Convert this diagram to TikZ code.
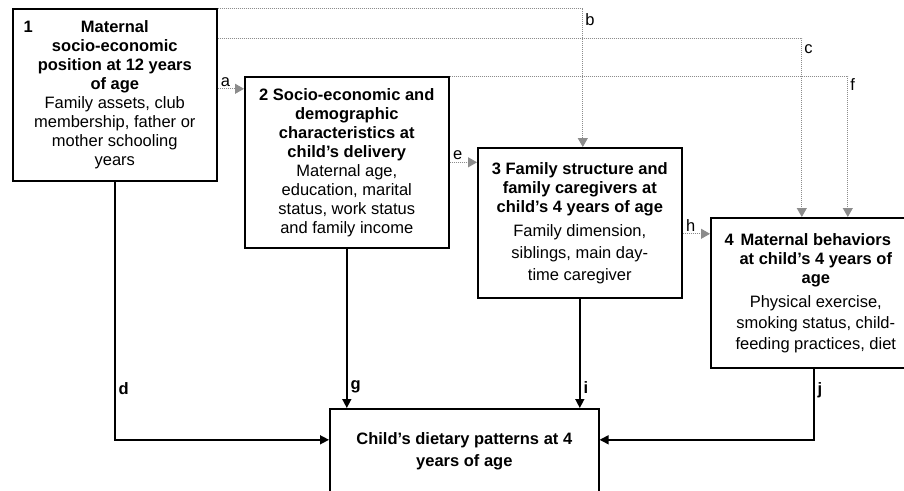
\documentclass[tikz,border=0pt]{standalone}
\usepackage{fontspec}
\setmainfont{Liberation Sans}
\usetikzlibrary{arrows.meta,positioning,calc}

\begin{document}
\begin{tikzpicture}[
			x=1pt, y=-1pt,
			every node/.style={font=\fontsize{16.5}{19}\selectfont},
			box/.style={draw, line width=1.6pt, anchor=north west, align=center, inner sep=2pt},
			num/.style={anchor=base west, font=\fontsize{16.5}{19}\selectfont\bfseries},
			dotline/.style={black!45, line width=1pt, dash pattern=on 1pt off 1pt,
				-{Triangle[width=10pt,length=9pt]}},
			mainline/.style={black, line width=1.5pt, -{Triangle[width=9pt,length=9pt]}},
			lab/.style={text=black, inner sep=2pt},
			blab/.style={font=\fontsize{16.5}{19}\selectfont\bfseries, inner sep=3pt}
			]
			\useasboundingbox (0,0) rectangle (904,490);
			\clip (0,0) rectangle (904,490);
			
			% Determinant blocks
			\node[box, minimum width=204pt, minimum height=172pt] (mat) at (12,8)
				{\textbf{Maternal}\\ \textbf{socio-economic}\\ \textbf{position at 12 years}\\ \textbf{of age}\\
				 Family assets, club\\ membership, father or\\ mother schooling\\ years};
			\node[box, minimum width=204pt, minimum height=171pt] (demo) at (244,76)
				{\textbf{2 Socio-economic and}\\ \textbf{demographic}\\ \textbf{characteristics at}\\ \textbf{child's delivery}\\
				 Maternal age,\\ education, marital\\ status, work status\\ and family income};
			\node[box, minimum width=204pt, minimum height=150pt] (fam) at (477,147)
				{\textbf{3 Family structure and}\\ \textbf{family caregivers at}\\ \textbf{child's 4 years of age}\\[5pt]
				 Family dimension,\\[3pt] siblings, main day-\\[3pt] time caregiver};
			\node[box, minimum width=210pt, minimum height=150pt] (beh) at (710,217)
				{\textbf{Maternal behaviors}\\ \textbf{at child's 4 years of}\\ \textbf{age}\\[5pt]
				 Physical exercise,\\[2pt] smoking status, child-\\[2pt] feeding practices, diet};
			
			% Outcome
			\node[box, minimum width=269pt, minimum height=84pt] (diet) at (329,408)
				{\textbf{Child's dietary patterns at 4}\\[3pt] \textbf{years of age}};
			
			% Block numbers
			\node[num] (n1) at ([xshift=8pt,yshift=-24pt]mat.north west) {1};
			\node[num] (n4) at ([xshift=11pt,yshift=-28pt]beh.north west) {4};
			
			% Indirect paths (dotted)
			\draw[dotline] ([yshift=6pt]mat.east) -- ([yshift=6pt]mat.east -| demo.west)
				node[lab, pos=0.3, above] {a};
			\draw[dotline] (mat.north east) -| ([xshift=3pt]fam.north)
				node[lab, pos=0.54, right] {b};
			\draw[dotline] ([yshift=-30pt]mat.north east) -| ([xshift=-14pt]beh.north)
				node[lab, pos=0.53, right] {c};
			\draw[dotline] (demo.east) -- (demo.east -| fam.west)
				node[lab, pos=0.3, above] {e};
			\draw[dotline] (demo.north east) -| ([xshift=32pt]beh.north)
				node[lab, pos=0.53, right] {f};
			\draw[dotline] ([yshift=-11pt]fam.east) -- ([yshift=-11pt]fam.east -| beh.west)
				node[lab, pos=0.3, above] {h};
			
			% Direct paths to the outcome
			\draw[mainline] (mat.south) |- ([yshift=11pt]diet.west)
				node[blab, pos=0.4, right] {d};
			\draw[mainline] (demo.south) -- (demo.south |- diet.north)
				node[blab, pos=0.87, right] {g};
			\draw[mainline] (fam.south) -- (fam.south |- diet.north)
				node[blab, pos=0.81, right] {i};
			\draw[mainline] ([xshift=-2pt]beh.south) |- ([yshift=11pt]diet.east)
				node[blab, pos=0.15, right] {j};
			
		\end{tikzpicture}
\end{document}
